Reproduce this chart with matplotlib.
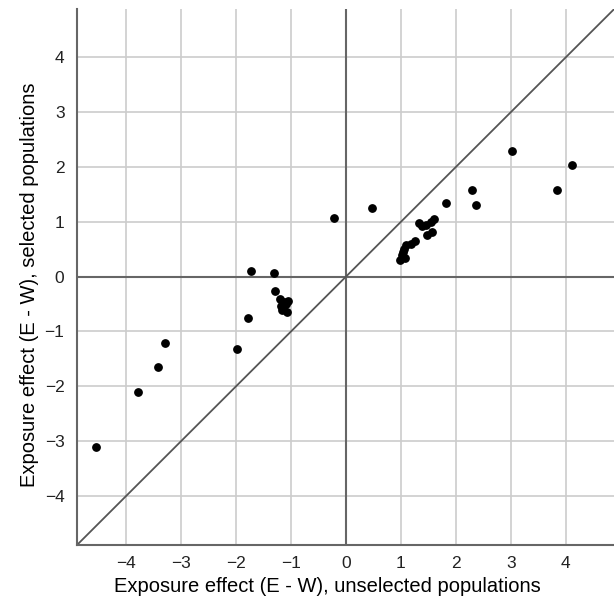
import matplotlib.pyplot as plt

plt.rcParams['font.family'] = ['Liberation Sans', 'DejaVu Sans']

# exposure effects
unselected = [-4.56, -3.78, -3.42, -3.30, -1.98, -1.78, -1.73, -1.31, -1.29,
              -1.21, -1.06, -1.19, -1.10, -1.17, -1.07, -1.15, -1.13,
              -0.22, 0.47,
              1.61, 1.54, 1.45, 1.32, 1.39, 1.57, 1.48, 1.25, 1.18, 1.10,
              1.05, 1.04, 1.08, 0.99, 1.02,
              1.82, 2.30, 2.37, 3.02, 3.85, 4.11]
selected = [-3.11, -2.10, -1.66, -1.21, -1.33, -0.75, 0.10, 0.07, -0.27,
            -0.41, -0.45, -0.53, -0.51, -0.61, -0.65, -0.58, -0.47,
            1.07, 1.25,
            1.05, 0.99, 0.95, 0.98, 0.93, 0.81, 0.75, 0.64, 0.60, 0.57,
            0.51, 0.44, 0.33, 0.30, 0.40,
            1.35, 1.58, 1.30, 2.29, 1.58, 2.04]

ticks = [-4, -3, -2, -1, 0, 1, 2, 3, 4]
lim = (-4.9, 4.88)

fig = plt.figure(figsize=(6.14, 6.02), dpi=100)
ax = fig.add_axes([0.1254, 0.0947, 0.8746, 0.89])

ax.set_xlim(lim)
ax.set_ylim(lim)
ax.set_xticks(ticks)
ax.set_yticks(ticks)
labels = ['\u2212' + str(-t) if t < 0 else str(t) for t in ticks]
ax.set_xticklabels(labels)
ax.set_yticklabels(labels)
ax.grid(True, color='#cccccc', linewidth=1.2, zorder=0)
ax.set_axisbelow(True)

ax.axhline(0, color='#666666', linewidth=1.5, zorder=1)
ax.axvline(0, color='#666666', linewidth=1.5, zorder=1)
ax.plot(lim, lim, color='#555555', linewidth=1.3, zorder=2)

ax.scatter(unselected, selected, s=28, color='black', zorder=3)

for side in ['top', 'right']:
    ax.spines[side].set_visible(False)
for side in ['left', 'bottom']:
    ax.spines[side].set_color('#666666')
    ax.spines[side].set_linewidth(1.5)

ax.tick_params(length=0, labelsize=12.5, colors='#222222')
ax.tick_params(axis='x', pad=8)
ax.tick_params(axis='y', pad=9)
ax.set_xlabel('Exposure effect (E - W), unselected populations', fontsize=14.5, labelpad=4)
ax.set_ylabel('Exposure effect (E - W), selected populations', fontsize=14.5, labelpad=4)
ax.xaxis.label.set_x(0.467)
ax.yaxis.label.set_y(0.485)

fig.savefig('out.png', dpi=100)
